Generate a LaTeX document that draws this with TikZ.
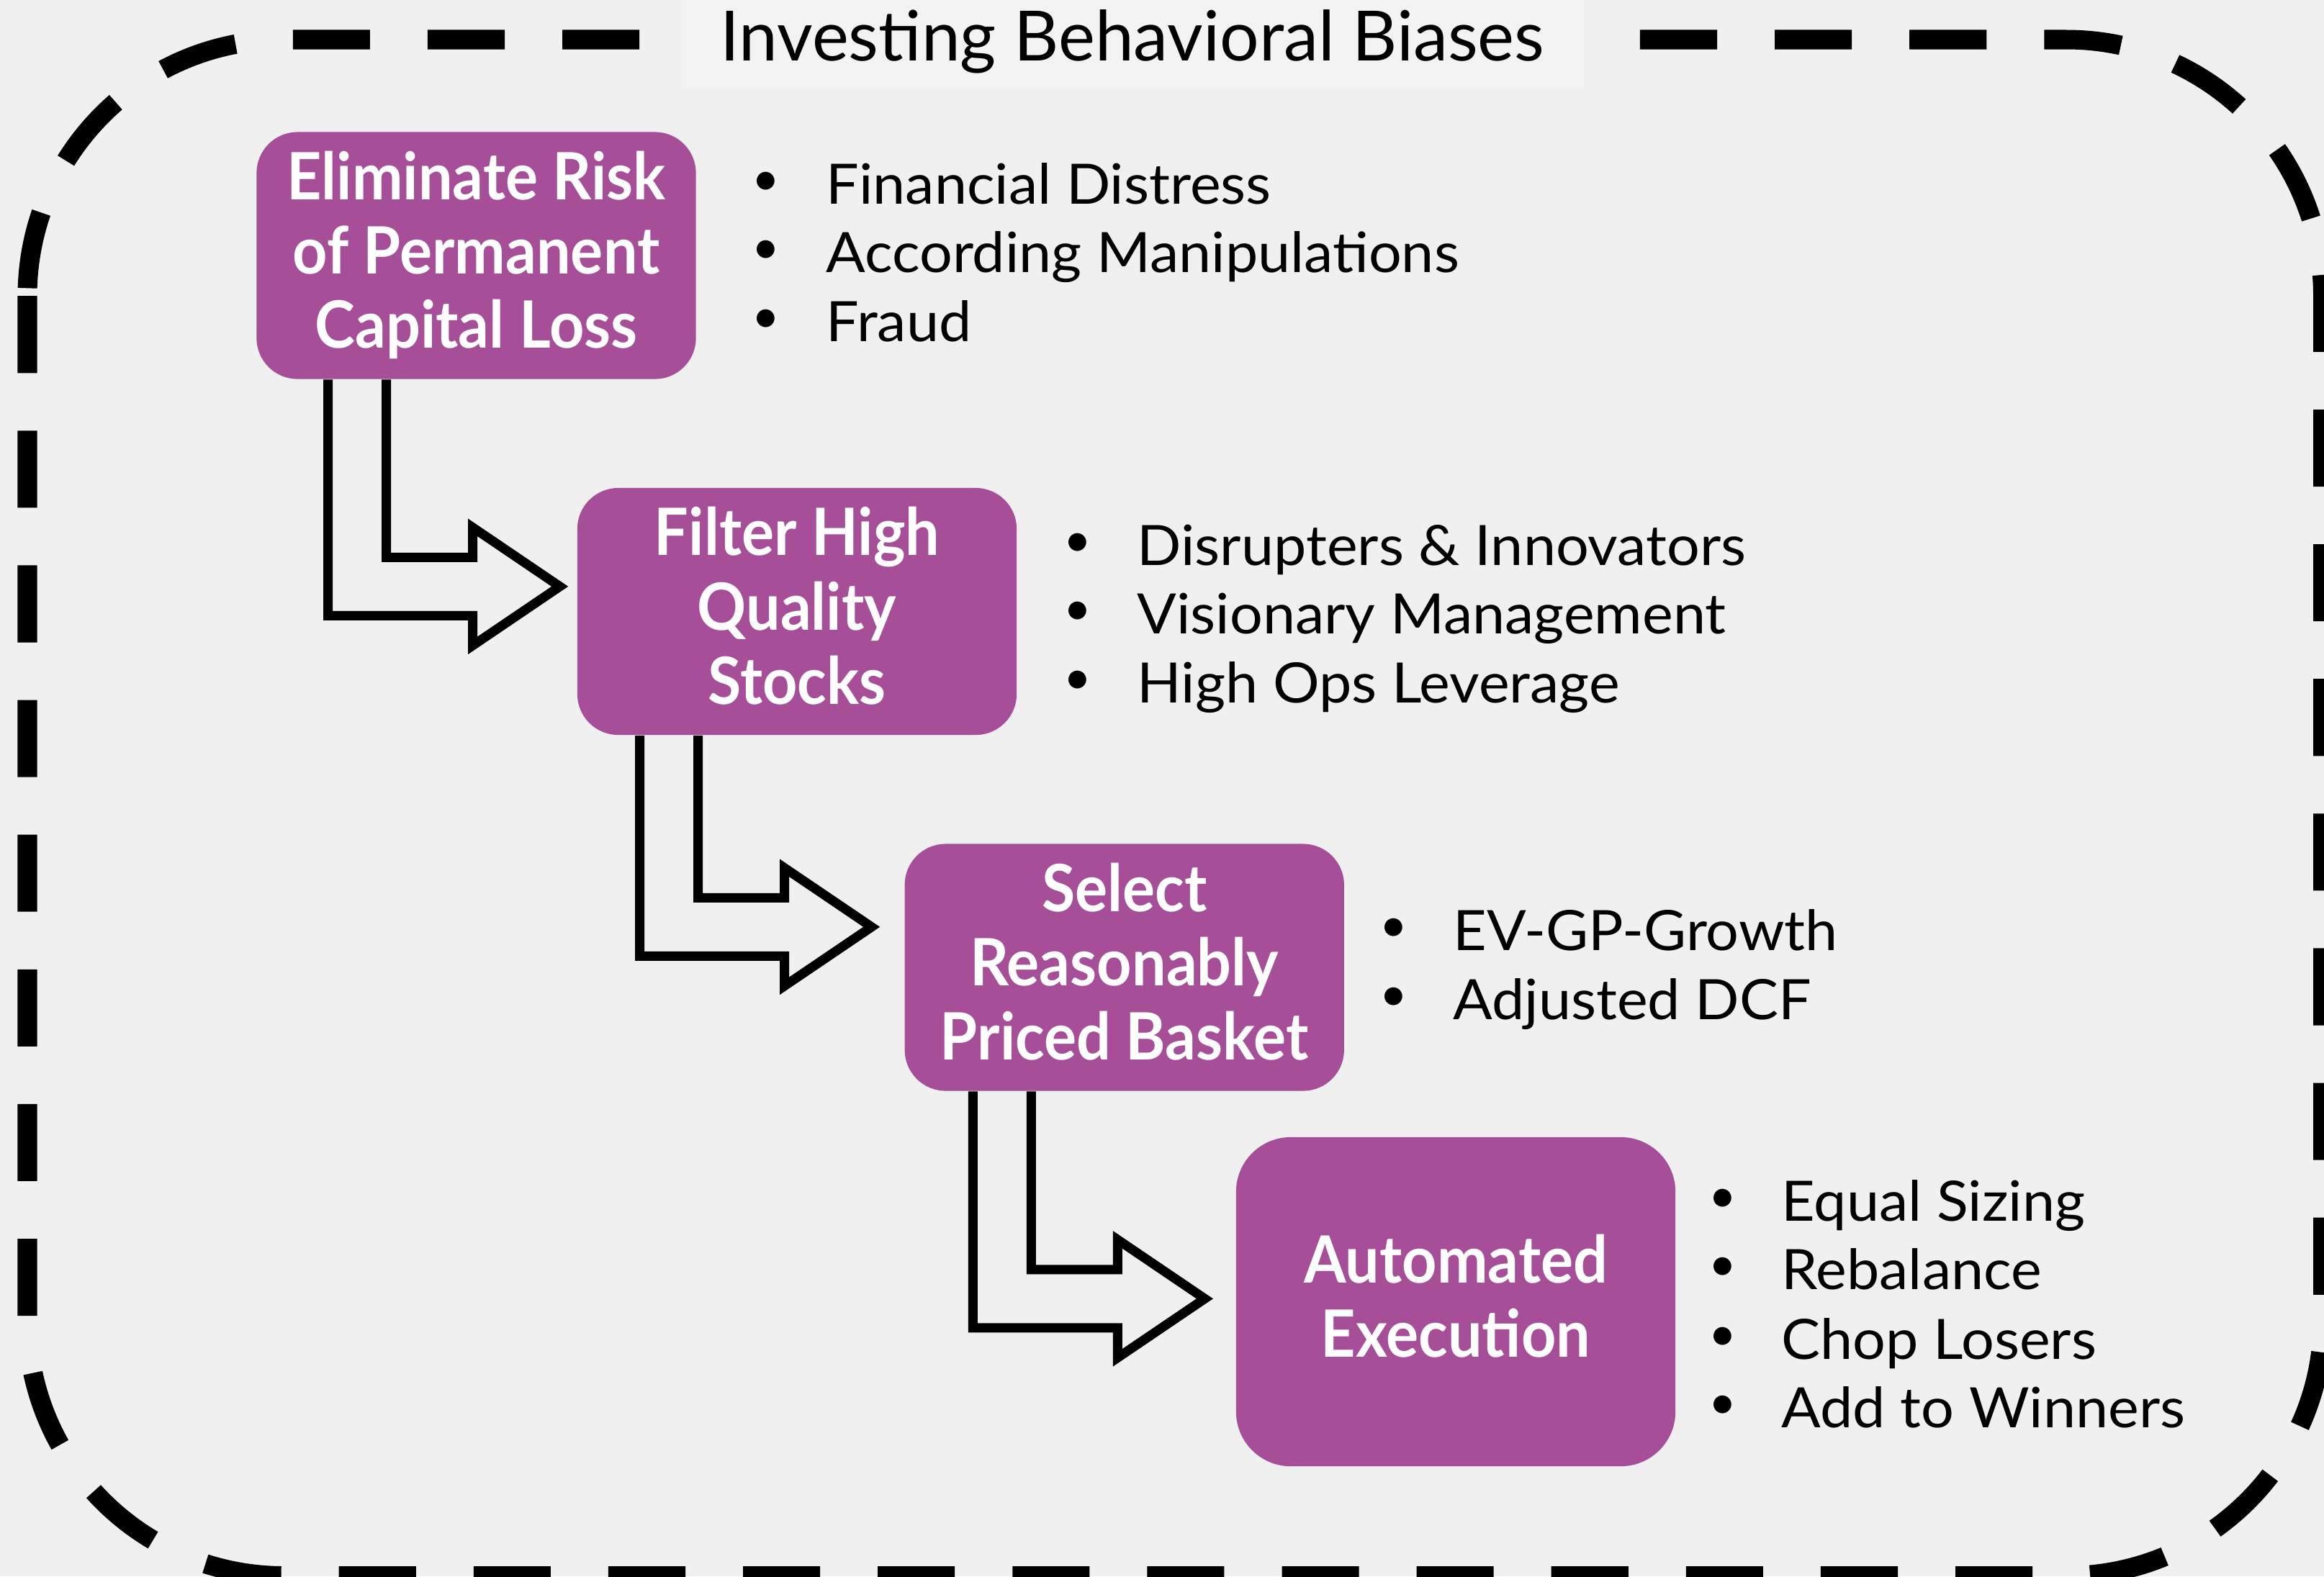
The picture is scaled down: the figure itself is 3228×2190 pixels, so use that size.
\documentclass[tikz,border=0pt]{standalone}
\usepackage{fontspec}
\setmainfont{Lato}
\newfontfamily\itemfont{Lato}[FakeStretch=1.045]
\newfontfamily\stagefont{Lato}[FakeStretch=0.93]
\usetikzlibrary{calc}
\definecolor{canvas}{RGB}{240,240,240}
\definecolor{titlebg}{RGB}{243,243,243}
\definecolor{plum}{RGB}{167,78,153}
% strut so every box line has the same height and depth
\newcommand\boxstrut{\rule[-0.17cm]{0pt}{0.85cm}}
% bent hollow arrow hanging under a box: #1 box, #2 shaft offset, #3 drop to arrow axis
\newcommand\flowarrow[3]{%
  \draw[flow] ($(#1.south west)+(#2,0)$) -- ++(0,#3+40.5) -- ++(201,0) -- ++(0,41.5)
    -- ++(121,-82) -- ++(-121,-82) -- ++(0,41.5) -- ++(-120,0)
    -- ($(#1.south west)+(#2+81,0)$);}
\begin{document}
\begin{tikzpicture}[
  x=0.01cm, y=-0.01cm,
  frame/.style={draw=black, line width=0.27cm, dash pattern=on 1.07cm off 0.8cm, rounded corners=3.56cm},
  stage/.style={fill=plum, text=white, rounded corners=0.57cm, minimum width=6.1cm, minimum height=3.43cm,
    inner sep=0pt, align=center, font=\stagefont\fontsize{25.8}{29.3}\selectfont\bfseries},
  flow/.style={draw=black, line width=0.13cm},
  dot/.style={inner sep=0pt, font=\fontsize{19}{22}\selectfont},
  item/.style={anchor=base west, inner sep=0pt, font=\itemfont\fontsize{22}{26}\selectfont},
  heading/.style={fill=titlebg, minimum width=12.53cm, minimum height=1.23cm, inner sep=0pt,
    text height=0.75cm, text depth=0.3cm, font=\fontsize{27.4}{30}\selectfont}
]
\fill[canvas] (0,0) rectangle (3228,2190);
\useasboundingbox (0,0) rectangle (3228,2190);
\draw[frame] (38,55) rectangle (3226.5,2189.5);
\node[heading] (title) at (1573,61.5) {Investing Behavioral Biases};

% the four stages
\node[stage] (risk) at (661.5,355) {\boxstrut Eliminate Risk\\\boxstrut of Permanent\\\boxstrut Capital Loss};
\node[stage] (quality) at (1107,849.5) {\boxstrut Filter High\\\boxstrut Quality\\\boxstrut Stocks};
\node[stage] (basket) at (1561.75,1344) {\boxstrut Select\\\boxstrut Reasonably\\\boxstrut Priced Basket};
\node[stage, minimum height=4.57cm, rounded corners=0.76cm] (exec) at (2022,1808.5) {\boxstrut Automated\\\boxstrut Execution};

\flowarrow{risk}{100}{287.5}
\flowarrow{quality}{87.5}{266}
\flowarrow{basket}{95.5}{288}

% bullet lists
\foreach \y/\name [count=\i] in {283/{Financial Distress}, 378/{According Manipulations}, 474/{Fraud}} {
  \node[dot] (riskdot\i) at (1063.5,\y-28) {•};
  \node[item] (riskitem\i) at (1147,\y) {\name};
}
\foreach \y/\name [count=\i] in {785/{Disrupters \& Innovators}, 880/{Visionary Management}, 976/{High Ops Leverage}} {
  \node[dot] (qualdot\i) at (1497,\y-28) {•};
  \node[item] (qualitem\i) at (1579,\y) {\name};
}
\foreach \y/\name [count=\i] in {1320/{EV-GP-Growth}, 1416/{Adjusted DCF}} {
  \node[dot] (basdot\i) at (1935.5,\y-28) {•};
  \node[item] (basitem\i) at (2018,\y) {\name};
}
\foreach \y/\name [count=\i] in {1696/{Equal Sizing}, 1791/{Rebalance}, 1888/{Chop Losers}, 1983/{Add to Winners}} {
  \node[dot] (exdot\i) at (2393,\y-28) {•};
  \node[item] (exitem\i) at (2474,\y) {\name};
}
\end{tikzpicture}
\end{document}
